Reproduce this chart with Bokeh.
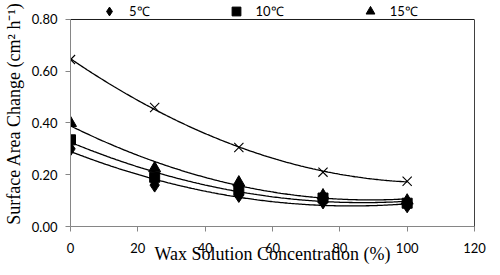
import numpy as np
from bokeh.plotting import figure
from bokeh.models import (Legend, LegendItem, Range1d, NumeralTickFormatter,
                          FixedTicker, LinearAxis, Span)
from bokeh.embed import file_html
from bokeh.resources import INLINE

# ---- data ----
concentration = [0, 25, 50, 75, 100]
temp_labels = ["5℃", "10℃", "15℃"]
surface_5c = [0.30, 0.16, 0.12, 0.095, 0.08]
surface_10c = [0.335, 0.19, 0.14, 0.11, 0.09]
surface_15c = [0.40, 0.225, 0.17, 0.12, 0.10]
surface_cross = [0.645, 0.46, 0.305, 0.21, 0.175]
x_ticks = [0, 20, 40, 60, 80, 100, 120]
y_ticks = [0.0, 0.2, 0.4, 0.6, 0.8]
y_axis_max = 0.8
y_view_max = 0.8734   # extra headroom above the axis for the legend row

p = figure(width=492, height=267, output_backend="svg", toolbar_location=None,
           x_range=Range1d(0, 120), y_range=Range1d(0, y_view_max),
           min_border_left=70, min_border_right=18, min_border_top=0,
           min_border_bottom=41)
p.xgrid.visible = False
p.ygrid.visible = False
p.outline_line_color = None
p.background_fill_color = "white"
p.border_fill_color = "white"

tick_font = "Lato"
title_font = "Liberation Serif"
for ax in (p.xaxis[0], p.yaxis[0]):
    ax.axis_line_color = "#868686"
    ax.major_tick_line_color = "#868686"
    ax.major_tick_in = 0
    ax.major_tick_out = 5
    ax.minor_tick_line_color = None
    ax.major_label_text_font = tick_font
    ax.major_label_text_font_size = "13px"
    ax.major_label_text_color = "black"
    ax.axis_label_text_font = title_font
    ax.axis_label_text_font_size = "18px"
    ax.axis_label_text_font_style = "normal"
    ax.axis_label_text_color = "black"

p.xaxis.ticker = FixedTicker(ticks=x_ticks)
p.yaxis.ticker = FixedTicker(ticks=y_ticks)
p.yaxis.bounds = (0, y_axis_max)
p.yaxis.formatter = NumeralTickFormatter(format="0.00")
p.xaxis.major_label_standoff = 11
p.yaxis.major_label_standoff = 8
p.xaxis.axis_label = "Wax Solution Concentration (%)"
p.yaxis.axis_label = "Surface Area Change (cm² h⁻¹)"
p.xaxis.axis_label_standoff = -12
p.yaxis.axis_label_standoff = 5

# top / right frame lines
right_line = LinearAxis(ticker=FixedTicker(ticks=[]), axis_line_color="#404040",
                        bounds=(0, y_axis_max),
                        major_tick_line_color=None, minor_tick_line_color=None,
                        major_label_text_font_size="0px")
p.add_layout(right_line, "right")
p.add_layout(Span(location=y_axis_max, dimension="width",
                  line_color="#1a1a1a", line_width=1))

# trend lines (2nd order polynomial fits of each series)
xs = np.linspace(0, 100, 201)
for series in (surface_5c, surface_10c, surface_15c, surface_cross):
    coef = np.polyfit(concentration, series, 2)
    p.line(xs, np.polyval(coef, xs), line_color="black", line_width=1.3)

r5 = p.scatter(concentration, surface_5c, marker="diamond", size=14,
               color="black")
r10 = p.scatter(concentration, surface_10c, marker="square", size=10,
                color="black")
r15 = p.scatter(concentration, surface_15c, marker="triangle", size=12,
                color="black")
p.scatter(concentration, surface_cross, marker="x", size=13,
          line_color="black", line_width=1.1)

legend = Legend(items=[LegendItem(label=lab, renderers=[r])
                       for lab, r in zip(temp_labels, (r5, r10, r15))],
                location="top_left", orientation="horizontal",
                title=" ", title_location="left", title_standoff=20,
                title_text_font_size="6px",
                padding=0, margin=0, spacing=73, border_line_color=None,
                background_fill_alpha=0, glyph_width=26, glyph_height=22,
                label_standoff=7, label_height=12,
                label_text_font=tick_font, label_text_font_size="13px",
                label_text_color="black")
p.add_layout(legend, "center")

open("out.html", "w").write(file_html(p, INLINE))
